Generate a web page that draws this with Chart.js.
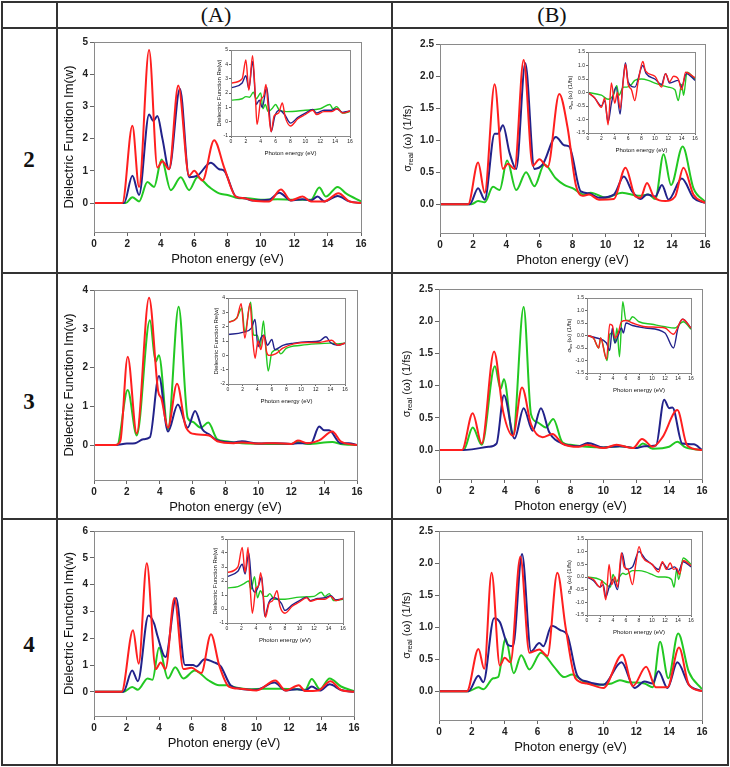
<!DOCTYPE html>
<html>
<head>
<meta charset="utf-8">
<script src="https://cdn.jsdelivr.net/npm/chart.js@4.4.0/dist/chart.umd.min.js"></script>
<style>
body{margin:0;background:#fff;width:730px;height:767px;position:relative;overflow:hidden;font-family:"Liberation Sans",Arial,sans-serif}
.ln{position:absolute;background:#333}
.hdr{position:absolute;font-family:"Liberation Serif","Times New Roman",serif;font-size:22px;color:#111;transform:translate(-50%,-50%)}
.rowlab{position:absolute;font-family:"Liberation Serif","Times New Roman",serif;font-size:23px;font-weight:bold;color:#111;transform:translate(-50%,-50%)}
canvas{position:absolute}
</style>
</head>
<body>
<div class="ln" style="left:1px;top:1px;width:728px;height:2px"></div>
<div class="ln" style="left:1px;top:27px;width:728px;height:2px"></div>
<div class="ln" style="left:1px;top:272px;width:728px;height:2px"></div>
<div class="ln" style="left:1px;top:518px;width:728px;height:2px"></div>
<div class="ln" style="left:1px;top:764px;width:728px;height:2px"></div>
<div class="ln" style="left:1px;top:1px;width:2px;height:765px"></div>
<div class="ln" style="left:56px;top:1px;width:2px;height:765px"></div>
<div class="ln" style="left:391px;top:1px;width:2px;height:765px"></div>
<div class="ln" style="left:727px;top:1px;width:2px;height:765px"></div>
<div class="hdr" style="left:216px;top:15px">(A)</div>
<div class="hdr" style="left:552px;top:15px">(B)</div>
<div class="rowlab" style="left:29px;top:160px">2</div>
<div class="rowlab" style="left:29px;top:402px">3</div>
<div class="rowlab" style="left:29px;top:645px">4</div>
<script>
// ---- tick labels ----
const energyTicks = [0, 2, 4, 6, 8, 10, 12, 14, 16];
const epsImTicks2 = [0, 1, 2, 3, 4, 5];
const epsImTicks3 = [0, 1, 2, 3, 4];
const epsImTicks4 = [0, 1, 2, 3, 4, 5, 6];
const epsReTicks2 = [-1, 0, 1, 2, 3, 4, 5];
const epsReTicks3 = [-2, -1, 0, 1, 2, 3, 4];
const epsReTicks4 = [-1, 0, 1, 2, 3, 4, 5];
const sigReTicks = [0, 0.5, 1, 1.5, 2, 2.5];
const sigImTicks = [-1.5, -1, -0.5, 0, 0.5, 1, 1.5];

// ---- compound 2 ----  [photon energy (eV), value]
const epsImRed2 = [[0,0],[1.7,0],[2.3,2.4],[2.7,0.5],[3.3,4.75],[3.8,1.1],[4.1,1.3],[4.5,1.05],[5.05,3.65],[5.7,0.85],[6.0,1.0],[6.5,0.7],[7.2,1.95],[7.8,1.1],[8.5,0.2],[9.0,0.15],[9.5,0.08],[10.5,0.05],[11.2,0.42],[11.8,0.08],[12.5,0.2],[13.0,0.05],[13.8,0.05],[14.65,0.3],[15.3,0.05],[16,0]];
const epsImBlue2 = [[0,0],[1.8,0],[2.3,0.85],[2.7,0.25],[3.3,2.75],[3.55,2.55],[3.8,2.7],[4.1,2.0],[4.5,1.05],[5.15,3.55],[5.7,0.8],[6.2,0.85],[7.0,1.25],[7.5,1.05],[7.8,1.0],[8.5,0.2],[9.0,0.15],[9.5,0.08],[10.5,0.1],[11.1,0.32],[11.8,0.08],[12.5,0.12],[13.0,0.08],[13.4,0.2],[13.8,0.05],[14.6,0.22],[15.3,0.05],[16,0]];
const epsImGreen2 = [[0,0],[1.9,0],[2.3,0.18],[2.7,0.05],[3.2,0.65],[3.6,0.5],[4.05,1.35],[4.6,0.4],[5.2,0.8],[5.7,0.4],[6.2,0.8],[6.9,0.5],[7.5,0.3],[8.0,0.25],[8.7,0.15],[9.2,0.15],[10,0.1],[11,0.12],[12,0.1],[13,0.1],[13.5,0.48],[13.9,0.2],[14.6,0.5],[15.1,0.3],[16,0.05]];
const epsReRed2 = [[0,2.7],[1.5,3.0],[2.0,4.3],[2.4,2.2],[2.9,4.6],[3.3,1.5],[3.5,-0.2],[4.0,1.5],[4.4,1.8],[4.7,2.6],[5.0,1.0],[5.4,-0.7],[5.8,0.4],[6.4,0.6],[6.9,1.3],[7.3,0.3],[8.0,-0.3],[9,0.2],[10,0.5],[11,0.8],[11.5,0.5],[12.5,0.7],[13.5,0.7],[14.3,0.9],[15,0.6],[16,0.75]];
const epsReBlue2 = [[0,2.35],[1.5,2.7],[2.0,3.2],[2.4,2.3],[2.9,4.2],[3.4,1.2],[3.8,1.5],[4.2,1.0],[4.8,2.4],[5.1,1.0],[5.4,-0.7],[5.9,0.4],[6.5,0.8],[7.2,0.5],[8.0,-0.1],[9,0.3],[10,0.6],[11,0.85],[11.5,0.6],[12.5,0.8],[13.5,0.8],[14.2,0.9],[15,0.65],[16,0.75]];
const epsReGreen2 = [[0,1.5],[1.5,1.6],[2.0,1.75],[2.5,1.7],[3.0,2.05],[3.4,1.6],[4.0,2.0],[4.3,0.9],[4.6,1.2],[5.0,0.7],[5.5,0.9],[6.0,1.2],[6.5,0.8],[7.5,0.7],[10,0.8],[12,0.9],[13.3,1.2],[13.7,0.9],[14.2,1.05],[15,0.6],[16,0.7]];
const sigReRed2 = [[0,0],[1.7,0],[2.3,0.65],[2.7,0.18],[3.3,1.87],[3.8,0.55],[4.1,0.63],[4.5,0.55],[5.05,2.25],[5.6,0.6],[6.0,0.7],[6.5,0.58],[7.2,1.72],[7.7,1.2],[8.2,0.3],[8.6,0.13],[9.0,0.15],[9.6,0.07],[10.5,0.08],[11.2,0.57],[11.8,0.12],[12.1,0.1],[12.5,0.33],[12.9,0.12],[13.6,0.05],[14.2,0.12],[14.7,0.57],[15.3,0.15],[16,0.02]];
const sigReBlue2 = [[0,0],[1.8,0],[2.3,0.25],[2.7,0.07],[3.3,1.1],[3.5,1.1],[3.8,1.23],[4.2,0.8],[4.6,0.55],[5.15,2.2],[5.7,0.55],[6.2,0.62],[7.0,1.05],[7.5,0.92],[7.8,0.9],[8.5,0.2],[9.0,0.17],[9.6,0.1],[10.5,0.15],[11.1,0.43],[11.6,0.2],[12.1,0.08],[12.5,0.15],[13.0,0.12],[13.4,0.3],[13.8,0.07],[14.6,0.4],[15.3,0.1],[16,0.02]];
const sigReGreen2 = [[0,0],[1.9,0],[2.3,0.05],[2.7,0.03],[3.2,0.27],[3.6,0.22],[4.05,0.68],[4.6,0.22],[5.2,0.5],[5.7,0.28],[6.3,0.62],[7.0,0.4],[7.5,0.3],[8.0,0.25],[8.7,0.15],[9.1,0.18],[10,0.1],[11.0,0.18],[12.0,0.13],[12.6,0.15],[13.0,0.08],[13.5,0.78],[13.95,0.3],[14.65,0.9],[15.3,0.25],[16,0.04]];
const sigImRed2 = [[0,0],[1,-0.2],[2.0,-0.55],[2.5,-0.2],[3.0,-1.2],[3.5,0.35],[4.0,-0.4],[4.4,0.0],[4.8,-0.6],[5.3,0.5],[5.6,1.05],[6.0,0.3],[6.5,0.1],[7.0,-0.3],[7.5,0.4],[8.2,1.15],[8.6,0.8],[10,0.6],[11,0.2],[11.6,0.7],[12.2,0.4],[12.8,0.6],[13.5,0.5],[14,0.1],[14.6,0.75],[16,0.55]];
const sigImBlue2 = [[0,0],[1,-0.2],[2.0,-0.5],[2.5,-0.3],[3.0,-1.1],[3.5,-0.4],[4.2,0.2],[4.8,-0.8],[5.2,0.3],[5.6,1.1],[6.0,0.4],[7,0.2],[8.2,1.0],[8.7,0.7],[10,0.5],[11,0.3],[11.6,0.7],[12.2,0.35],[13.5,0.45],[14,0.2],[14.7,0.7],[16,0.45]];
const sigImGreen2 = [[0,0],[2,-0.1],[3,-0.25],[3.8,-0.1],[4.3,0.25],[4.6,-0.1],[5.3,0.2],[5.8,0.2],[6.5,0.3],[7,0.45],[8,0.5],[9,0.45],[10,0.35],[12,0.2],[13,0.1],[13.5,-0.3],[14,0.3],[14.3,-0.1],[14.8,0.75],[16,0.5]];

// ---- compound 3 ----
const epsImRed3 = [[0,0],[1.3,0],[1.6,0.1],[2.05,2.28],[2.6,0.3],[3.35,3.8],[3.9,1.4],[4.1,1.2],[4.5,0.45],[5.05,1.58],[5.6,0.45],[6.2,0.28],[7.0,0.25],[7.5,0.1],[8.5,0.05],[9,0.07],[10,0.04],[11,0.05],[12,0.03],[12.4,0.12],[13,0.05],[13.7,0.12],[14.5,0.35],[15,0.1],[16,0]];
const epsImBlue3 = [[0,0],[1.3,0],[2,0.04],[2.5,0.05],[3.0,0.15],[3.4,0.2],[3.95,1.78],[4.5,0.35],[5.1,1.05],[5.7,0.45],[6.15,0.88],[6.6,0.4],[7.0,0.28],[7.5,0.12],[8.5,0.07],[9,0.1],[10,0.04],[11,0.05],[12,0.03],[12.4,0.05],[13.2,0.05],[13.7,0.48],[14.0,0.38],[14.3,0.38],[15,0.05],[15.5,0.05],[16,0]];
const epsImGreen3 = [[0,0],[1.4,0],[2.05,1.42],[2.6,0.25],[3.4,3.22],[3.75,2.15],[3.95,2.32],[4.5,0.4],[5.15,3.57],[5.7,0.7],[6.0,0.6],[6.5,0.45],[6.95,0.58],[7.5,0.15],[8,0.1],[9,0.05],[12,0.03],[12.4,0.08],[13,0.03],[14.5,0.08],[15,0.03],[16,0]];
const epsReRed3 = [[0,2.3],[1.2,2.6],[1.8,3.6],[2.3,1.2],[3.0,3.6],[3.4,1.0],[3.7,-0.2],[4.1,1.0],[4.5,0.4],[4.9,1.4],[5.3,0.2],[5.6,0.0],[6.5,0.1],[7.5,0.5],[9,0.8],[11,0.9],[12.5,0.9],[13.5,1.0],[14.2,1.05],[15,0.7],[16,0.85]];
const epsReBlue3 = [[0,1.45],[2,1.6],[3.2,1.9],[3.7,2.5],[4.1,0.6],[4.5,1.2],[4.9,1.4],[5.4,0.7],[6.0,1.1],[6.4,0.4],[7.5,0.7],[9,0.85],[11,0.95],[12.5,1.0],[13.4,1.3],[14,0.9],[15,0.7],[16,0.85]];
const epsReGreen3 = [[0,2.3],[1.2,2.6],[1.9,3.3],[2.3,1.6],[3.1,3.7],[3.5,1.4],[4.0,1.4],[4.4,0.6],[4.85,2.4],[5.2,0.3],[5.5,-1.1],[6.0,0.2],[6.8,0.4],[7.2,0.1],[8,0.5],[10,0.7],[12,0.8],[14,0.85],[15,0.8],[16,0.85]];
const sigReRed3 = [[0,0],[1.4,0],[2.05,0.57],[2.6,0.1],[3.35,1.53],[3.9,0.6],[4.5,0.22],[5.05,0.97],[5.6,0.4],[6.3,0.2],[6.9,0.25],[7.5,0.1],[8.5,0.05],[9,0.08],[10,0.03],[10.8,0.08],[11.8,0.03],[12.35,0.17],[13,0.05],[13.6,0.2],[14.5,0.62],[15.1,0.07],[16,0]];
const sigReBlue3 = [[0,0],[1.4,0],[2,0.01],[3,0.05],[3.5,0.1],[3.95,0.85],[4.6,0.18],[5.15,0.65],[5.7,0.3],[6.2,0.65],[6.7,0.28],[7.5,0.1],[8.5,0.06],[9.05,0.11],[10,0.04],[11,0.06],[12,0.03],[12.5,0.06],[13.2,0.07],[13.7,0.78],[14.0,0.65],[14.2,0.66],[14.8,0.1],[15.5,0.09],[16,0]];
const sigReGreen3 = [[0,0],[1.5,0],[2.05,0.35],[2.6,0.08],[3.4,1.3],[3.75,0.95],[3.95,1.1],[4.5,0.22],[5.15,2.22],[5.6,0.55],[6.0,0.43],[6.5,0.35],[6.95,0.48],[7.5,0.12],[8,0.08],[9,0.05],[10,0.04],[11,0.06],[12,0.03],[12.4,0.1],[13,0.02],[14,0.05],[14.5,0.13],[15,0.04],[16,0]];
const sigImRed3 = [[0,0],[1,-0.1],[1.8,-0.5],[2.1,-0.1],[3.0,-0.95],[3.5,0.45],[3.9,0.4],[4.3,-0.1],[4.8,0.1],[5.3,0.55],[6,0.6],[7,0.5],[9,0.35],[12,0.3],[13.3,0.05],[14.7,0.65],[16,0.3]];
const sigImBlue3 = [[0,0],[1.5,-0.1],[3.0,-0.3],[3.5,-0.6],[3.9,0.3],[4.3,-0.3],[4.8,0.0],[5.3,0.3],[5.6,0.1],[6.0,0.5],[7,0.4],[9,0.3],[12,0.1],[13.3,-0.5],[14,0.3],[14.7,0.65],[16,0.3]];
const sigImGreen3 = [[0,0],[1,-0.1],[1.8,-0.5],[2.1,-0.1],[3.1,-1.0],[3.5,0.05],[3.9,0.1],[4.3,-0.3],[4.6,0.3],[5.0,-0.85],[5.5,1.35],[6,0.6],[6.5,0.6],[7,0.75],[8,0.55],[10,0.45],[12,0.35],[13.5,0.3],[14.8,0.55],[16,0.25]];

// ---- compound 4 ----
const epsImRed4 = [[0,0],[1.7,0],[2.4,2.3],[2.75,1.05],[3.25,4.8],[3.8,0.85],[4.1,1.1],[4.4,0.85],[4.95,3.5],[5.5,0.85],[6.0,0.9],[6.6,0.7],[7.2,2.15],[7.7,1.0],[8.3,0.2],[9,0.12],[10,0.05],[11.15,0.42],[11.8,0.05],[12.6,0.25],[13,0.03],[13.8,0.05],[14.55,0.4],[15.2,0.07],[16,0]];
const epsImBlue4 = [[0,0],[1.8,0],[2.35,0.8],[2.7,0.4],[3.35,2.85],[3.7,2.55],[3.9,2.1],[4.4,1.3],[5.05,3.5],[5.6,1.0],[6.1,1.0],[6.3,0.95],[6.8,1.22],[7.4,1.1],[7.8,0.95],[8.4,0.25],[9,0.12],[10,0.08],[11.1,0.35],[11.8,0.05],[12.5,0.1],[13,0.05],[13.4,0.2],[13.9,0.05],[14.5,0.28],[15.2,0.07],[16,0]];
const epsImGreen4 = [[0,0],[1.8,0],[2.35,0.18],[2.7,0.08],[3.3,0.5],[3.6,0.45],[4.0,1.65],[4.55,0.5],[5.0,0.92],[5.5,0.5],[6.2,0.8],[7.0,0.45],[7.7,0.25],[8.2,0.25],[8.8,0.15],[9.5,0.1],[10.5,0.12],[11.5,0.12],[12.5,0.1],[13.0,0.08],[13.4,0.48],[13.9,0.1],[14.5,0.5],[15.2,0.2],[16,0.03]];
const epsReRed4 = [[0,2.6],[1.5,3.0],[2.1,4.4],[2.5,2.6],[2.9,4.4],[3.2,1.5],[3.5,-0.3],[4.0,1.5],[4.3,1.6],[4.65,2.6],[5.0,1.0],[5.3,-0.6],[5.8,0.4],[6.3,0.6],[6.9,1.3],[7.3,0.2],[8.0,-0.3],[9,0.2],[10,0.5],[11,0.8],[11.5,0.55],[12.5,0.7],[13.5,0.7],[14.3,0.9],[15,0.6],[16,0.75]];
const epsReBlue4 = [[0,2.3],[1.5,2.7],[2.1,3.2],[2.5,2.5],[3.0,4.0],[3.4,1.8],[3.9,1.2],[4.3,1.6],[4.8,2.3],[5.2,-0.5],[5.8,0.5],[6.5,0.8],[7.5,0.4],[8.0,-0.1],[9,0.3],[10,0.6],[11,0.85],[11.5,0.6],[12.5,0.75],[13.5,0.8],[14.3,0.95],[15,0.65],[16,0.75]];
const epsReGreen4 = [[0,1.5],[1.5,1.6],[2.3,1.8],[3.0,2.0],[3.3,1.4],[3.8,2.3],[4.2,0.8],[4.6,1.3],[5.1,0.9],[5.5,0.9],[5.9,1.1],[6.5,0.7],[8,0.7],[10,0.85],[12,0.9],[13,1.2],[13.5,0.9],[14.1,1.1],[14.7,0.6],[16,0.7]];
const sigReRed4 = [[0,0],[1.7,0],[2.4,0.66],[2.75,0.35],[3.2,1.85],[3.7,0.4],[4.0,0.52],[4.35,0.45],[4.95,2.1],[5.5,0.6],[6.1,0.65],[6.6,0.55],[7.2,1.85],[7.7,1.0],[8.3,0.2],[9,0.12],[10,0.05],[11.15,0.57],[11.8,0.08],[12.6,0.38],[13.2,0.06],[13.9,0.06],[14.6,0.68],[15.2,0.1],[16,0]];
const sigReBlue4 = [[0,0],[1.8,0],[2.4,0.24],[2.7,0.14],[3.35,1.14],[3.7,1.08],[4.2,0.72],[4.5,0.7],[5.05,2.14],[5.6,0.62],[6.1,0.75],[6.35,0.7],[6.85,1.02],[7.4,0.95],[7.8,0.88],[8.4,0.25],[9,0.15],[10,0.1],[11.1,0.45],[11.9,0.05],[12.5,0.15],[13.0,0.12],[13.35,0.31],[13.9,0.05],[14.5,0.45],[15.2,0.1],[16,0]];
const sigReGreen4 = [[0,0],[1.8,0],[2.4,0.06],[2.7,0.03],[3.3,0.2],[3.6,0.22],[4.05,0.82],[4.55,0.28],[5.0,0.56],[5.5,0.34],[6.2,0.6],[7.0,0.38],[7.6,0.22],[8.1,0.26],[8.8,0.15],[9.5,0.1],[10.5,0.12],[11.0,0.17],[11.5,0.14],[12.5,0.12],[13.0,0.06],[13.45,0.77],[13.95,0.2],[14.55,0.9],[15.2,0.3],[16,0.03]];
const sigImRed4 = [[0,0],[1,-0.1],[2.0,-0.4],[2.3,-0.15],[2.9,-0.9],[3.4,0.5],[3.8,-0.3],[4.3,0.0],[4.7,-0.4],[5.3,0.95],[5.7,0.4],[6.3,0.3],[7,-0.3],[7.5,0.5],[8.0,1.2],[8.5,0.8],[10,0.5],[11,0.2],[11.6,0.6],[12.2,0.3],[12.8,0.55],[13.3,0.3],[13.8,0.35],[14.2,0.1],[14.8,0.65],[16,0.45]];
const sigImBlue4 = [[0,0],[1,-0.15],[2,-0.4],[2.5,-0.3],[2.9,-0.8],[3.4,-0.4],[4.0,-0.1],[4.7,-0.5],[5.4,0.95],[6,0.3],[7,0.4],[8.0,1.0],[9,0.7],[10,0.5],[11,0.3],[11.6,0.55],[12.5,0.3],[13.5,0.4],[14,0.2],[14.8,0.6],[16,0.4]];
const sigImGreen4 = [[0,0],[2,-0.1],[3,-0.3],[3.6,-0.4],[4.0,0.1],[4.5,-0.2],[5.0,0.0],[5.5,0.15],[6,0.1],[7,0.25],[8,0.25],[9,0.2],[10,0.1],[11,0.0],[12,0.0],[13,-0.1],[13.4,-0.4],[13.8,0.3],[14.1,-0.1],[14.8,0.75],[16,0.5]];

const RED = '#ff1f1f', BLUE = '#22228a', GREEN = '#22c822';

// frame around the plot area + subscripted sigma titles
const framePlugin = {
  id: 'frame',
  afterDraw(chart) {
    const a = chart.chartArea, ctx = chart.ctx;
    ctx.save();
    ctx.strokeStyle = '#8a8a8a';
    ctx.lineWidth = 1;
    ctx.strokeRect(a.left + 0.5, a.top + 0.5, a.right - a.left, a.bottom - a.top);
    ctx.restore();
  }
};
const sigmaTitle = {
  id: 'sigmaTitle',
  afterDraw(chart, args, o) {
    if (!o.sub) return;
    const ctx = chart.ctx, a = chart.chartArea;
    const fam = '"Liberation Sans", Arial, sans-serif';
    const f1 = o.size + 'px ' + fam, f2 = (o.size * 0.7).toFixed(1) + 'px ' + fam;
    ctx.save();
    ctx.translate(a.left - o.dist, (a.top + a.bottom) / 2);
    ctx.rotate(-Math.PI / 2);
    ctx.font = f1;
    const w1 = ctx.measureText('σ').width, w3 = ctx.measureText(o.tail).width;
    ctx.font = f2;
    const w2 = ctx.measureText(o.sub).width;
    let cx = -(w1 + w2 + w3) / 2;
    ctx.fillStyle = '#111';
    ctx.textBaseline = 'middle';
    ctx.font = f1; ctx.fillText('σ', cx, 0); cx += w1;
    ctx.font = f2; ctx.fillText(o.sub, cx, o.size * 0.3); cx += w2;
    ctx.font = f1; ctx.fillText(o.tail, cx, 0);
    ctx.restore();
  }
};

function makeChart(box, series, o) {
  const m = o.margin;
  const cv = document.createElement('canvas');
  const w = box.r - box.l + m.left + m.right, h = box.b - box.t + m.top + m.bottom;
  cv.width = w; cv.height = h;
  cv.style.left = (box.l - m.left) + 'px';
  cv.style.top = (box.t - m.top) + 'px';
  cv.style.width = w + 'px'; cv.style.height = h + 'px';
  document.body.appendChild(cv);
  const tickFont = { family: '"Liberation Sans", Arial, sans-serif', size: o.tickSize, weight: o.tickWeight };
  const titleFont = { family: '"Liberation Sans", Arial, sans-serif', size: o.titleSize };
  return new Chart(cv, {
    type: 'line',
    data: {
      datasets: series.map(s => ({
        data: s[0].map(p => ({ x: p[0], y: p[1] })),
        borderColor: s[1], borderWidth: o.lw, pointRadius: 0,
        cubicInterpolationMode: 'monotone', fill: false
      }))
    },
    options: {
      responsive: false, animation: false, devicePixelRatio: 1,
      layout: { padding: { left: 0, top: m.top, right: m.right, bottom: 0 } },
      plugins: { legend: { display: false }, tooltip: { enabled: false }, sigmaTitle: o.sigma || {} },
      scales: {
        x: {
          type: 'linear', min: 0, max: 16,
          afterBuildTicks: s => { s.ticks = energyTicks.map(v => ({ value: v })); },
          afterFit: s => { s.height = m.bottom; },
          grid: { drawOnChartArea: false, tickLength: o.tl, color: '#666' },
          border: { color: '#8a8a8a' },
          ticks: { font: tickFont, color: '#222', padding: o.tp, maxRotation: 0, autoSkip: false },
          title: { display: true, text: 'Photon energy (eV)', font: titleFont, color: '#111', padding: 0 }
        },
        y: {
          type: 'linear', min: o.ymin, max: o.ymax,
          afterBuildTicks: s => { s.ticks = o.yTicks.map(v => ({ value: v })); },
          afterFit: s => { s.width = m.left; },
          grid: { drawOnChartArea: false, tickLength: o.tl, color: '#666' },
          border: { color: '#8a8a8a' },
          ticks: { font: tickFont, color: '#222', padding: o.tp, autoSkip: false,
                   callback: v => o.fixed ? v.toFixed(1) : String(v) },
          title: { display: !!o.yTitle, text: o.yTitle || '', font: titleFont, color: '#111', padding: 0 }
        }
      }
    },
    plugins: [framePlugin, sigmaTitle]
  });
}

const mainA = { margin: { left: 32, top: 10, right: 14, bottom: 35 }, tickSize: 10, tickWeight: 'bold', titleSize: 13, lw: 2, tl: 4, tp: 2, yTitle: 'Dielectric Function Im(w)' };
const mainB = { margin: { left: 40, top: 10, right: 14, bottom: 35 }, tickSize: 10, tickWeight: 'bold', titleSize: 13, lw: 2, tl: 4, tp: 2, fixed: true,
                sigma: { sub: 'real', tail: ' (ω) (1/fs)', size: 11, dist: 32 } };
const insA = { margin: { left: 15, top: 4, right: 5, bottom: 21 }, tickSize: 5, tickWeight: 'normal', titleSize: 6, lw: 1.4, tl: 2, tp: 1, yTitle: 'Dielectric Function Re(w)' };
const insB = { margin: { left: 21, top: 4, right: 5, bottom: 21 }, tickSize: 5, tickWeight: 'normal', titleSize: 6, lw: 1.4, tl: 2, tp: 1, fixed: true,
               sigma: { sub: 'Im', tail: ' (ω) (1/fs)', size: 6, dist: 18 } };

// row "2"
makeChart({ l: 94, t: 42, r: 361, b: 232 }, [[epsImRed2, RED], [epsImBlue2, BLUE], [epsImGreen2, GREEN]],
  Object.assign({}, mainA, { ymin: -0.9, ymax: 5, yTicks: epsImTicks2 }));
makeChart({ l: 231, t: 50, r: 350, b: 136 }, [[epsReRed2, RED], [epsReBlue2, BLUE], [epsReGreen2, GREEN]],
  Object.assign({}, insA, { ymin: -1, ymax: 5, yTicks: epsReTicks2 }));
makeChart({ l: 440, t: 44, r: 705, b: 233 }, [[sigReRed2, RED], [sigReBlue2, BLUE], [sigReGreen2, GREEN]],
  Object.assign({}, mainB, { ymin: -0.45, ymax: 2.5, yTicks: sigReTicks }));
makeChart({ l: 588, t: 52, r: 695, b: 133 }, [[sigImRed2, RED], [sigImBlue2, BLUE], [sigImGreen2, GREEN]],
  Object.assign({}, insB, { ymin: -1.5, ymax: 1.5, yTicks: sigImTicks }));

// row "3"
makeChart({ l: 94, t: 290, r: 357, b: 480 }, [[epsImRed3, RED], [epsImBlue3, BLUE], [epsImGreen3, GREEN]],
  Object.assign({}, mainA, { ymin: -0.9, ymax: 4, yTicks: epsImTicks3 }));
makeChart({ l: 228, t: 298, r: 345, b: 384 }, [[epsReRed3, RED], [epsReBlue3, BLUE], [epsReGreen3, GREEN]],
  Object.assign({}, insA, { ymin: -2, ymax: 4, yTicks: epsReTicks3 }));
makeChart({ l: 439, t: 289, r: 702, b: 479 }, [[sigReRed3, RED], [sigReBlue3, BLUE], [sigReGreen3, GREEN]],
  Object.assign({}, mainB, { ymin: -0.45, ymax: 2.5, yTicks: sigReTicks }));
makeChart({ l: 587, t: 298, r: 691, b: 373 }, [[sigImRed3, RED], [sigImBlue3, BLUE], [sigImGreen3, GREEN]],
  Object.assign({}, insB, { ymin: -1.5, ymax: 1.5, yTicks: sigImTicks }));

// row "4"
makeChart({ l: 94, t: 531, r: 354, b: 716 }, [[epsImRed4, RED], [epsImBlue4, BLUE], [epsImGreen4, GREEN]],
  Object.assign({}, mainA, { ymin: -0.9, ymax: 6, yTicks: epsImTicks4 }));
makeChart({ l: 227, t: 539, r: 343, b: 623 }, [[epsReRed4, RED], [epsReBlue4, BLUE], [epsReGreen4, GREEN]],
  Object.assign({}, insA, { ymin: -1, ymax: 5, yTicks: epsReTicks4 }));
makeChart({ l: 439, t: 531, r: 702, b: 720 }, [[sigReRed4, RED], [sigReBlue4, BLUE], [sigReGreen4, GREEN]],
  Object.assign({}, mainB, { ymin: -0.45, ymax: 2.5, yTicks: sigReTicks }));
makeChart({ l: 587, t: 539, r: 691, b: 615 }, [[sigImRed4, RED], [sigImBlue4, BLUE], [sigImGreen4, GREEN]],
  Object.assign({}, insB, { ymin: -1.5, ymax: 1.5, yTicks: sigImTicks }));
</script>
</body>
</html>
